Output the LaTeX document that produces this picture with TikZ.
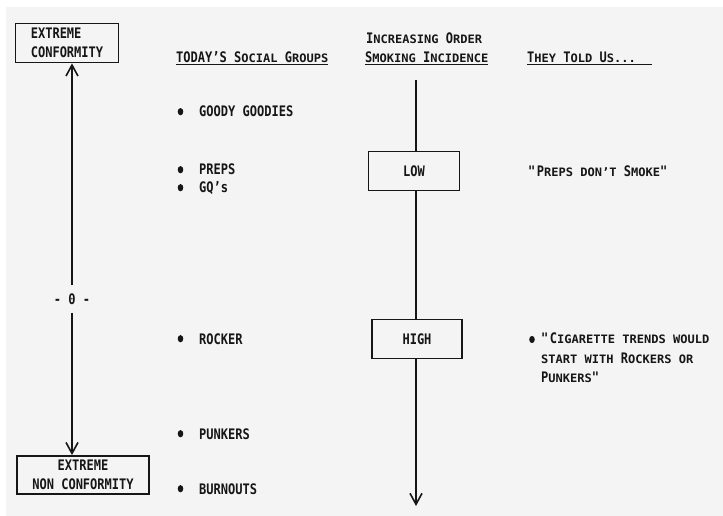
\documentclass[tikz,border=0pt]{standalone}
\usepackage{fontspec}
\setmainfont{DejaVu Sans Mono}[FakeStretch=0.83]
\usepackage{graphicx}
\usetikzlibrary{arrows.meta}
\definecolor{encre}{HTML}{161616}
\definecolor{papier}{HTML}{F4F4F4}
\newcommand\pc[1]{\scalebox{1}[0.8]{#1}} % petites capitales
\begin{document}
\begin{tikzpicture}[x=1pt,y=-1pt,
	every node/.style={font=\fontsize{14.5}{19.5}\selectfont\bfseries, text=encre}]
		\tikzstyle{cadre}=[draw=encre, line width=1.8pt, inner sep=0pt]
		\tikzstyle{texte}=[anchor=base west, inner sep=0pt]
		\tikzstyle{fleche}=[draw=encre, line width=1.8pt, -{Straight Barb[length=11pt,width=12pt,line width=1.6pt]}]
		\fill[white] (0,0) rectangle (723,516);
		\fill[papier] (6,7) rectangle (723,516);
		\useasboundingbox (0,0) rectangle (723,516);
		% echelle de conformite
		\node[cadre, minimum width=103, minimum height=39, align=left] (conf) at (67,43) {EXTREME\\CONFORMITY};
		\node[inner xsep=0pt, inner ysep=8pt] (zero) at (72,299) {- 0 -};
		\node[cadre, minimum width=132, minimum height=38, align=center] (nonconf) at (83,475) {EXTREME\\NON CONFORMITY};
		\draw[fleche] (zero.north) -- (zero.north |- conf.south);
		\draw[fleche] (zero.south) -- (zero.south |- nonconf.north);
		% groupes
		\node[texte] (titregr) at (176,63) {\underline{TODAY'S S\pc{OCIAL} G\pc{ROUPS}}};
		\node[texte] (goody) at (199,117) {GOODY GOODIES};
		\node[texte] (preps) at (199,175) {PREPS};
		\node[texte] (gq) at (199,193) {GQ's};
		\node[texte] (rocker) at (199,344) {ROCKER};
		\node[texte] (punkers) at (199,439) {PUNKERS};
		\node[texte] (burnouts) at (199,494) {BURNOUTS};
		\foreach \g in {goody,preps,gq,rocker,punkers,burnouts}
			\fill[encre] ([xshift=-18.5pt,yshift=5.3pt]\g.base west) ellipse [x radius=2.8pt, y radius=3.6pt];
		% tabac
		\node[texte] (ordre) at (366,44) {I\pc{NCREASING} O\pc{RDER}};
		\node[texte] (incidence) at (365,63) {\underline{S\pc{MOKING} I\pc{NCIDENCE}}};
		\coordinate (haut) at (416,80);
		\node[cadre, minimum width=91, minimum height=39] (low) at (414,171) {LOW};
		\node[cadre, minimum width=90, minimum height=39] (high) at (417,339) {HIGH};
		\coordinate (bas) at (416,506);
		\draw[encre, line width=1.8pt] (haut) -- (haut |- low.north);
		\draw[encre, line width=1.8pt] (haut |- low.south) -- (haut |- high.north);
		\draw[fleche] (haut |- high.south) -- (bas);
		% citations
		\node[texte] (dits) at (527,63) {\underline{T\pc{HEY} T\pc{OLD} U\pc{S...}\hspace{16pt}}};
		\node[texte] (prepsdit) at (528,176) {\textquotedbl P\pc{REPS DON'T} S\pc{MOKE}\textquotedbl};
		\node[anchor=north west, inner sep=0pt, align=left] (cigarette) at (541,333) {\textquotedbl C\pc{IGARETTE TRENDS WOULD}\\\pc{START WITH} R\pc{OCKERS OR}\\P\pc{UNKERS}\textquotedbl};
		\fill[encre] ([xshift=-9pt,yshift=-6.5pt]cigarette.north west) ellipse [x radius=2.8pt, y radius=3.6pt];
	\end{tikzpicture}
\end{document}
